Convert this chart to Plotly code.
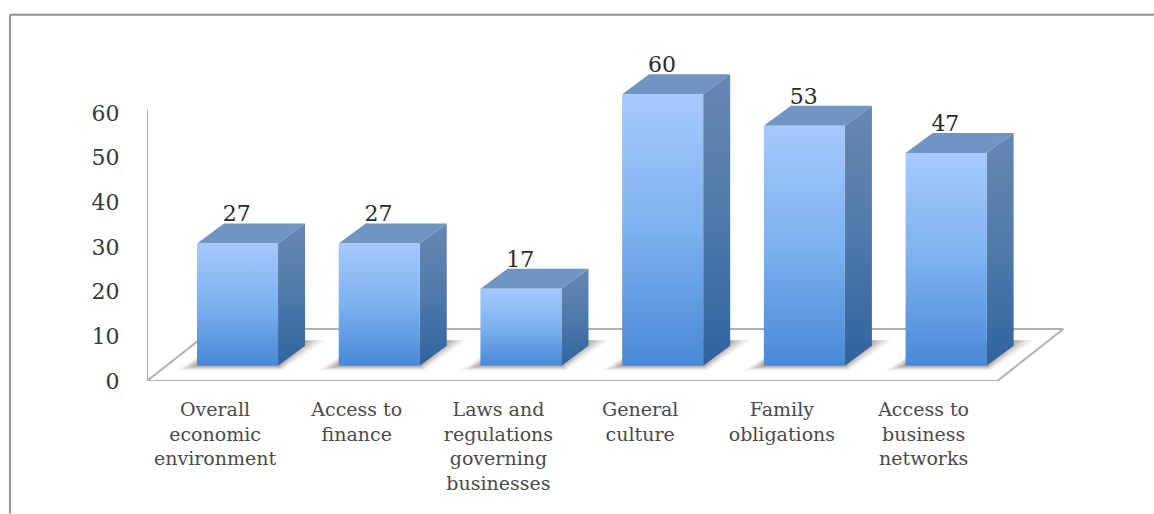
import plotly.graph_objects as go

# Survey values and axis labels
categories = [
    "Overall<br>economic<br>environment",
    "Access to<br>finance",
    "Laws and<br>regulations<br>governing<br>businesses",
    "General<br>culture",
    "Family<br>obligations",
    "Access to<br>business<br>networks",
]
values = [27, 27, 17, 60, 53, 47]
y_ticks = [0, 10, 20, 30, 40, 50, 60]

# Oblique projection of the box chart, in axis units
SLOT_PX = 141.67
UNIT_PX = 4.53
WALL_UNIT_PX = 4.47
BAR_W = 81 / SLOT_PX
BAR_X0 = 50 / SLOT_PX
FRONT_Y = 15.3 / UNIT_PX
DEPTH_X = 27 / SLOT_PX
DEPTH_Y = 20 / UNIT_PX
FLOOR_X = 66 / SLOT_PX
FLOOR_Y = 52 / UNIT_PX

X_MAX = 7.0
Y_MAX = 76
LEFT, BOTTOM = 147, 514 - 381.5
PLOT_W = X_MAX * SLOT_PX
PLOT_H = Y_MAX * UNIT_PX

FONT = "DejaVu Serif"
AXIS_GREY = "#b0b0b0"

fig = go.Figure()


def polygon(xs, ys, **style):
    fig.add_trace(go.Scatter(
        x=xs, y=ys, mode="lines", fill="toself", line=dict(width=0),
        hoverinfo="skip", showlegend=False, **style))


def polyline(xs, ys, color=AXIS_GREY, width=2):
    fig.add_trace(go.Scatter(
        x=xs, y=ys, mode="lines", line=dict(color=color, width=width),
        hoverinfo="skip", showlegend=False))


def gradient(top, mid, bottom):
    return dict(type="vertical",
                colorscale=[[0, bottom], [0.5, mid], [1, top]])


# Back wall scale: carries the value ticks at the slightly tighter wall spacing
fig.add_trace(go.Scatter(
    x=[0] * len(y_ticks), y=y_ticks, yaxis="y2", mode="markers",
    marker=dict(opacity=0), hoverinfo="skip", showlegend=False,
))

# Floor parallelogram and back wall edge
polyline([0, 6, 6 + FLOOR_X, FLOOR_X, 0], [0, 0, FLOOR_Y, FLOOR_Y, 0])
polyline([0, 0], [0, 60])

for i, value in enumerate(values):
    x0 = i + BAR_X0
    x1 = x0 + BAR_W
    y0 = FRONT_Y
    y1 = FRONT_Y + value

    # Soft floor shadow, built from stacked translucent layers
    for grow, alpha in [(1.0, 0.08), (0.8, 0.10), (0.6, 0.14), (0.4, 0.18), (0.2, 0.2)]:
        spread = 20 * grow / SLOT_PX
        drop = 4.5 * grow / UNIT_PX
        polygon(
            [x0 - spread, x1 + spread * 0.2, x1 + DEPTH_X + spread, x0 + DEPTH_X],
            [y0 - drop, y0 - drop, y0 + DEPTH_Y + 1.2, y0 + DEPTH_Y + 1.2],
            fillcolor=f"rgba(120,100,85,{alpha})",
        )

    # Right side face
    polygon(
        [x1, x1 + DEPTH_X, x1 + DEPTH_X, x1, x1],
        [y0, y0 + DEPTH_Y, y1 + DEPTH_Y, y1, y0],
        fillgradient=gradient("#6787b0", "#4f7aab", "#2f639f"),
    )
    # Top face
    polygon(
        [x0, x1, x1 + DEPTH_X, x0 + DEPTH_X, x0],
        [y1, y1, y1 + DEPTH_Y, y1 + DEPTH_Y, y1],
        fillcolor="#7095c2",
    )
    # Front face
    polygon(
        [x0, x1, x1, x0, x0],
        [y0, y0, y1, y1, y0],
        fillgradient=gradient("#a5c9fc", "#7db1ef", "#4889d6"),
    )

# Value labels above each box
fig.add_trace(go.Scatter(
    x=[i + BAR_X0 + BAR_W / 2 - 0.005 for i in range(len(values))],
    y=[v + FRONT_Y + DEPTH_Y + 1.7 for v in values],
    mode="text",
    text=[str(v) for v in values],
    textposition="middle center",
    textfont=dict(family=FONT, size=22, color="#2a2a2a"),
    hoverinfo="skip", showlegend=False,
))

fig.update_layout(
    width=1154, height=514,
    autosize=False,
    margin=dict(l=LEFT, b=BOTTOM, r=1154 - LEFT - PLOT_W, t=514 - BOTTOM - PLOT_H),
    paper_bgcolor="white", plot_bgcolor="white",
    showlegend=False,
    xaxis=dict(
        range=[0, X_MAX], showgrid=False, zeroline=False, showline=False,
        tickmode="array", tickvals=[i + 0.48 for i in range(len(categories))],
        ticktext=categories, ticks="outside", ticklen=11, tickcolor="white",
        tickangle=0, tickfont=dict(family=FONT, size=19, color="#4a4a4a"),
    ),
    yaxis=dict(
        range=[0, Y_MAX], showgrid=False, zeroline=False, showline=False,
        showticklabels=False, ticks="",
    ),
    yaxis2=dict(
        range=[0, PLOT_H / WALL_UNIT_PX], overlaying="y", side="left", anchor="x",
        showgrid=False, zeroline=False, showline=False,
        tickmode="array", tickvals=y_ticks, ticks="outside", ticklen=22,
        tickcolor="white",
        tickfont=dict(family=FONT, size=22, color="#383838"),
    ),
    shapes=[
        # Outer frame: top and left rules only
        dict(type="line", xref="paper", yref="paper", layer="below",
             x0=(10 - LEFT) / PLOT_W, x1=(1154 - LEFT) / PLOT_W,
             y0=(514 - BOTTOM - 15) / PLOT_H, y1=(514 - BOTTOM - 15) / PLOT_H,
             line=dict(color="#8f8f8f", width=2)),
        dict(type="line", xref="paper", yref="paper", layer="below",
             x0=(10 - LEFT) / PLOT_W, x1=(10 - LEFT) / PLOT_W,
             y0=(514 - BOTTOM - 15) / PLOT_H, y1=-BOTTOM / PLOT_H,
             line=dict(color="#8f8f8f", width=2)),
    ],
)

fig.write_html("out.html", config=dict(displayModeBar=False))
